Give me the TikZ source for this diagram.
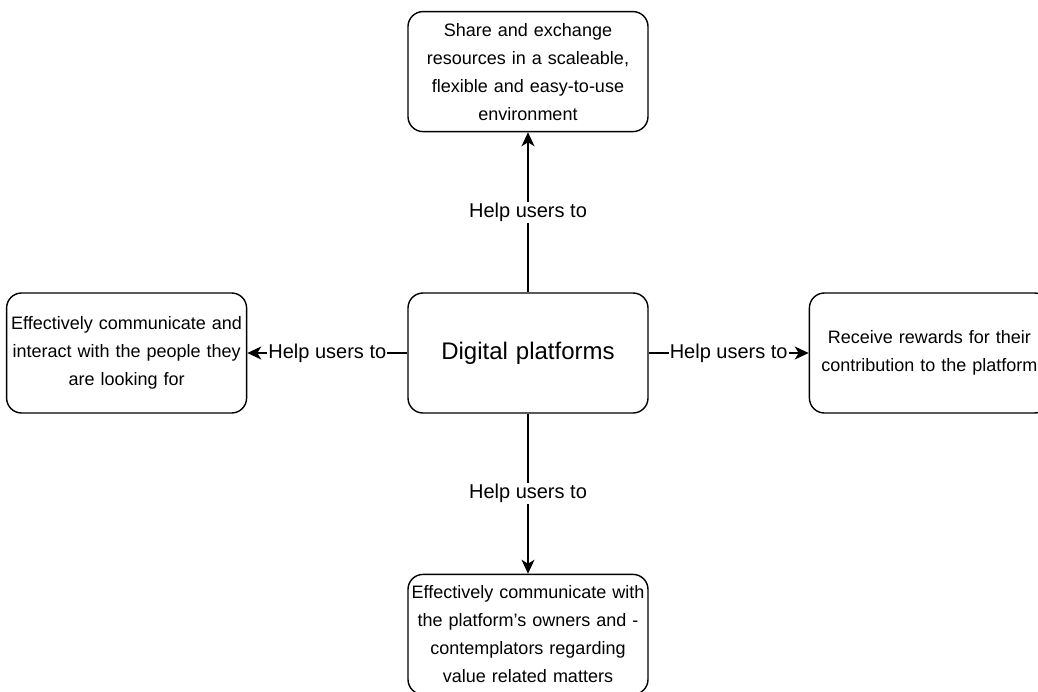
\documentclass[tikz,border=0pt]{standalone}
\usepackage{fontspec}
\setmainfont{Liberation Sans}
\usetikzlibrary{positioning, arrows.meta}

\begin{document}
\begin{tikzpicture}[x=1pt, y=-1pt,
    box/.style={draw, line width=1.4pt, rounded corners=15pt, minimum width=240pt,
        minimum height=120pt, text width=236pt, inner sep=2pt, align=center,
        font=\fontsize{18}{28}\selectfont},
    link/.style={-{Stealth[length=14pt, width=13pt, inset=4pt]}, line width=1.4pt},
    lbl/.style={midway, fill=white, inner sep=1pt, font=\fontsize{20}{24}\selectfont},
    node distance=160pt]
    \useasboundingbox (0,0) rectangle (1038,691);
    \clip (0,0) rectangle (1038,691);
    \node[box, font=\fontsize{24}{28}\selectfont] (dp) at (528,353) {Digital platforms};
    \node[box, above=of dp] (share) {Share and exchange\\resources in a scaleable,\\flexible and easy-to-use\\environment};
    \node[box, left=of dp] (talk) {Effectively communicate and\\interact with the people they\\are looking for};
    \node[box, right=of dp] (reward) {Receive rewards for their\\contribution to the platform};
    \node[box, below=of dp] (owners) {Effectively communicate with\\the platform's owners and -\\contemplators regarding\\value related matters};
    \draw[link] (dp) -- (share) node[lbl] {Help users to};
    \draw[link] (dp) -- (talk) node[lbl] {Help users to};
    \draw[link] (dp) -- (reward) node[lbl] {Help users to};
    \draw[link] (dp) -- (owners) node[lbl] {Help users to};
\end{tikzpicture}
\end{document}
